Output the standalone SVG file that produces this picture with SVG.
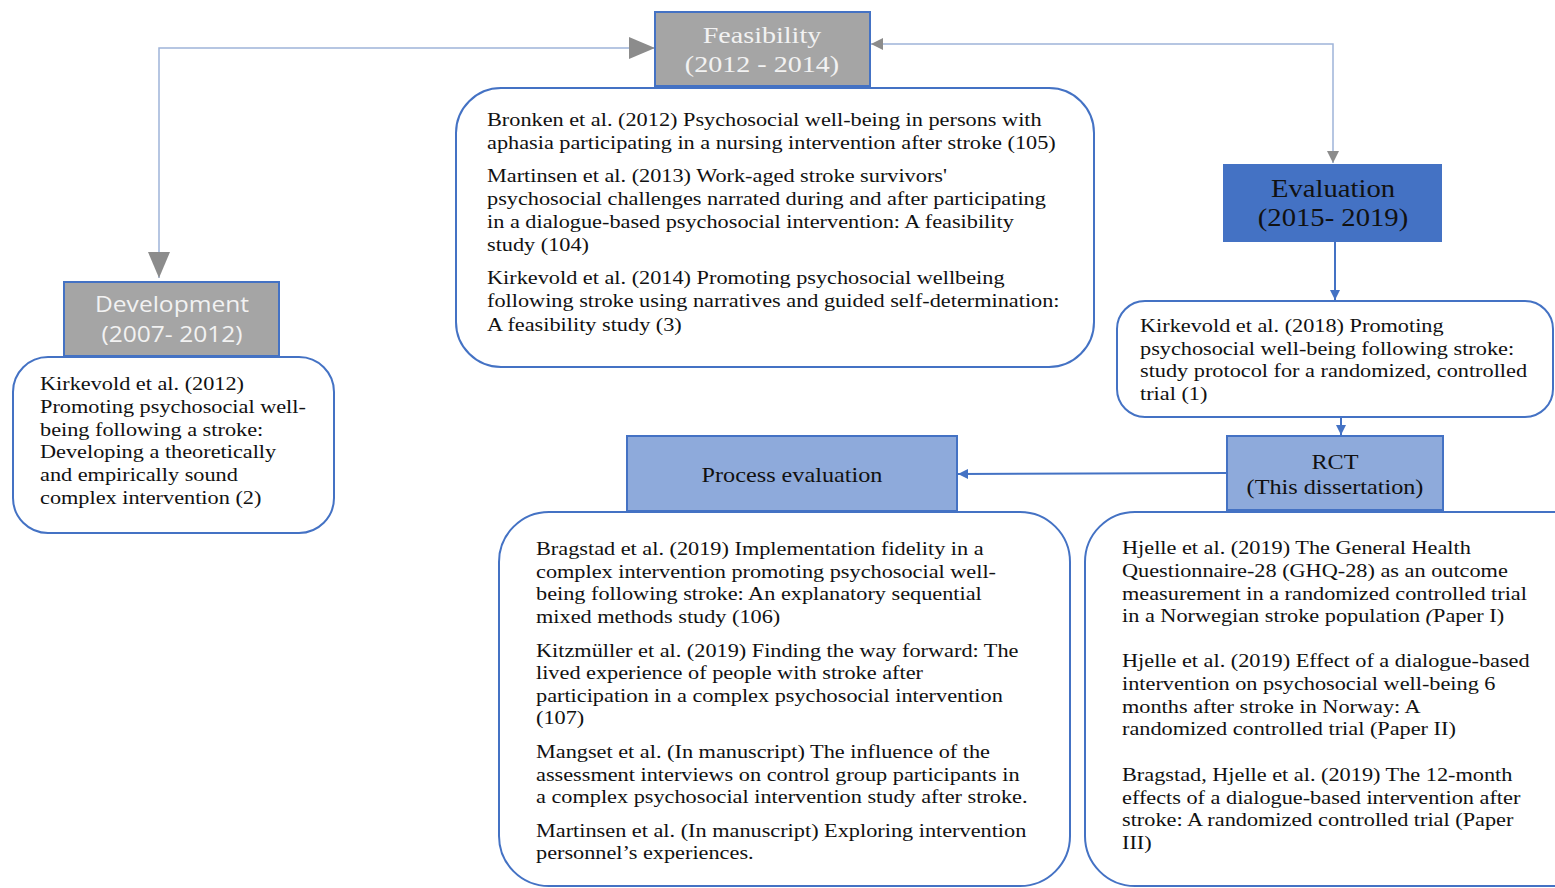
<svg xmlns="http://www.w3.org/2000/svg" width="1555" height="888" viewBox="0 0 1555 888">
<style>
.hdr-gray{fill:#a5a5a5;stroke:#4472c4;stroke-width:2}
.hdr-blue{fill:#4472c4;stroke:#4472c4;stroke-width:2}
.hdr-light{fill:#8eaadb;stroke:#4472c4;stroke-width:2}
.card{fill:#ffffff;stroke:#4472c4;stroke-width:2}
.body{font-family:"Liberation Serif","Times New Roman",serif;font-size:19px;fill:#111}
.htw{font-family:"Liberation Serif","Times New Roman",serif;font-size:24px;fill:#f2f2f2;text-anchor:middle}
.hts{font-family:"Open Sans","Liberation Sans",sans-serif;font-size:21px;fill:#f2f2f2;text-anchor:middle}
.htd{font-family:"Liberation Serif","Times New Roman",serif;font-size:24.5px;fill:#111;text-anchor:middle}
.htm{font-family:"Liberation Serif","Times New Roman",serif;font-size:20.7px;fill:#111;text-anchor:middle}
.conn-light{fill:none;stroke:#9fb4d9;stroke-width:1.5}
.conn-blue{fill:none;stroke:#4472c4;stroke-width:2}
</style>
<defs>
<marker id="bigGray" markerUnits="userSpaceOnUse" markerWidth="27" markerHeight="22" refX="26" refY="11" orient="auto-start-reverse"><path d="M0,0 L26,11 L0,22 z" fill="#8c8c8c"/></marker>
<marker id="smallGray" markerUnits="userSpaceOnUse" markerWidth="13" markerHeight="12" refX="12" refY="6" orient="auto-start-reverse"><path d="M0,0 L12,6 L0,12 z" fill="#8c8c8c"/></marker>
<marker id="smallBlue" markerUnits="userSpaceOnUse" markerWidth="11" markerHeight="10" refX="10" refY="5" orient="auto"><path d="M0,0 L10,5 L0,10 z" fill="#4472c4"/></marker>
</defs>
<rect width="1555" height="888" fill="#ffffff"/>

<g id="connectors">
<path class="conn-light" d="M159,278 V48 H655" marker-start="url(#bigGray)" marker-end="url(#bigGray)"/>
<path class="conn-light" d="M1333,163 V44 H871" marker-start="url(#smallGray)" marker-end="url(#smallGray)"/>
<path class="conn-blue" d="M1335,241 V300" marker-end="url(#smallBlue)"/>
<path class="conn-blue" d="M1341,417 V435" marker-end="url(#smallBlue)"/>
<path class="conn-blue" d="M1227,473 L958,474" marker-end="url(#smallBlue)"/>
</g>

<g id="feasibility">
<rect class="hdr-gray" x="655" y="12" width="215" height="74"/>
<g transform="translate(762,0) scale(1.17,1)">
<text class="htw" x="0" y="43">Feasibility</text>
<text class="htw" x="0" y="72">(2012 - 2014)</text>
</g>
</g>

<g id="feasibility-studies">
<rect class="card" x="456" y="88" width="638" height="279" rx="45"/>
<g transform="translate(487,0) scale(1.173,1)">
<text class="body" x="0" y="126">Bronken et al. (2012) Psychosocial well-being in persons with</text>
<text class="body" x="0" y="149">aphasia participating in a nursing intervention after stroke (105)</text>
<text class="body" x="0" y="182">Martinsen et al. (2013) Work-aged stroke survivors'</text>
<text class="body" x="0" y="205">psychosocial challenges narrated during and after participating</text>
<text class="body" x="0" y="228">in a dialogue-based psychosocial intervention: A feasibility</text>
<text class="body" x="0" y="251">study (104)</text>
<text class="body" x="0" y="284">Kirkevold et al. (2014) Promoting psychosocial wellbeing</text>
<text class="body" x="0" y="307">following stroke using narratives and guided self-determination:</text>
<text class="body" x="0" y="331">A feasibility study (3)</text>
</g>
</g>

<g id="development">
<rect class="hdr-gray" x="64" y="282" width="215" height="74"/>
<g transform="translate(172,0) scale(1.17,1)">
<text class="hts" x="0" y="312">Development</text>
<text class="hts" x="0" y="342">(2007- 2012)</text>
</g>
</g>

<g id="development-studies">
<rect class="card" x="13" y="357" width="321" height="176" rx="35"/>
<g transform="translate(40,0) scale(1.173,1)">
<text class="body" x="0" y="390">Kirkevold et al. (2012)</text>
<text class="body" x="0" y="413">Promoting psychosocial well-</text>
<text class="body" x="0" y="436">being following a stroke:</text>
<text class="body" x="0" y="458">Developing a theoretically</text>
<text class="body" x="0" y="481">and empirically sound</text>
<text class="body" x="0" y="504">complex intervention (2)</text>
</g>
</g>

<g id="evaluation">
<rect class="hdr-blue" x="1224" y="165" width="217" height="76"/>
<g transform="translate(1333,0) scale(1.17,1)">
<text class="htd" x="0" y="197">Evaluation</text>
<text class="htd" x="0" y="226">(2015- 2019)</text>
</g>
</g>

<g id="protocol">
<rect class="card" x="1117" y="301" width="436" height="116" rx="28"/>
<g transform="translate(1140,0) scale(1.173,1)">
<text class="body" x="0" y="332">Kirkevold et al. (2018) Promoting</text>
<text class="body" x="0" y="355">psychosocial well-being following stroke:</text>
<text class="body" x="0" y="377">study protocol for a randomized, controlled</text>
<text class="body" x="0" y="400">trial (1)</text>
</g>
</g>

<g id="rct">
<rect class="hdr-light" x="1227" y="436" width="216" height="74"/>
<g transform="translate(1335,0) scale(1.17,1)">
<text class="htm" x="0" y="469">RCT</text>
<text class="htm" x="0" y="494">(This dissertation)</text>
</g>
</g>

<g id="process-evaluation">
<rect class="hdr-light" x="627" y="436" width="330" height="75"/>
<g transform="translate(792,0) scale(1.17,1)">
<text class="htm" x="0" y="482">Process evaluation</text>
</g>
</g>

<g id="process-studies">
<rect class="card" x="499" y="512" width="571" height="374" rx="50"/>
<g transform="translate(536,0) scale(1.173,1)">
<text class="body" x="0" y="555">Bragstad et al. (2019) Implementation fidelity in a</text>
<text class="body" x="0" y="578">complex intervention promoting psychosocial well-</text>
<text class="body" x="0" y="600">being following stroke: An explanatory sequential</text>
<text class="body" x="0" y="623">mixed methods study (106)</text>
<text class="body" x="0" y="657">Kitzmüller et al. (2019) Finding the way forward: The</text>
<text class="body" x="0" y="679">lived experience of people with stroke after</text>
<text class="body" x="0" y="702">participation in a complex psychosocial intervention</text>
<text class="body" x="0" y="724">(107)</text>
<text class="body" x="0" y="758">Mangset et al. (In manuscript) The influence of the</text>
<text class="body" x="0" y="781">assessment interviews on control group participants in</text>
<text class="body" x="0" y="803">a complex psychosocial intervention study after stroke.</text>
<text class="body" x="0" y="837">Martinsen et al. (In manuscript) Exploring intervention</text>
<text class="body" x="0" y="859">personnel’s experiences.</text>
</g>
</g>

<g id="rct-studies">
<rect class="card" x="1085" y="512" width="520" height="374" rx="50"/>
<g transform="translate(1122,0) scale(1.173,1)">
<text class="body" x="0" y="554">Hjelle et al. (2019) The General Health</text>
<text class="body" x="0" y="577">Questionnaire-28 (GHQ-28) as an outcome</text>
<text class="body" x="0" y="600">measurement in a randomized controlled trial</text>
<text class="body" x="0" y="622">in a Norwegian stroke population <tspan font-style="italic">(</tspan>Paper I)</text>
<text class="body" x="0" y="667">Hjelle et al. (2019) Effect of a dialogue-based</text>
<text class="body" x="0" y="690">intervention on psychosocial well-being 6</text>
<text class="body" x="0" y="713">months after stroke in Norway: A</text>
<text class="body" x="0" y="735">randomized controlled trial (Paper II)</text>
<text class="body" x="0" y="781">Bragstad, Hjelle et al. (2019) The 12-month</text>
<text class="body" x="0" y="804">effects of a dialogue-based intervention after</text>
<text class="body" x="0" y="826">stroke: A randomized controlled trial (Paper</text>
<text class="body" x="0" y="849">III)</text>
</g>
</g>
</svg>
